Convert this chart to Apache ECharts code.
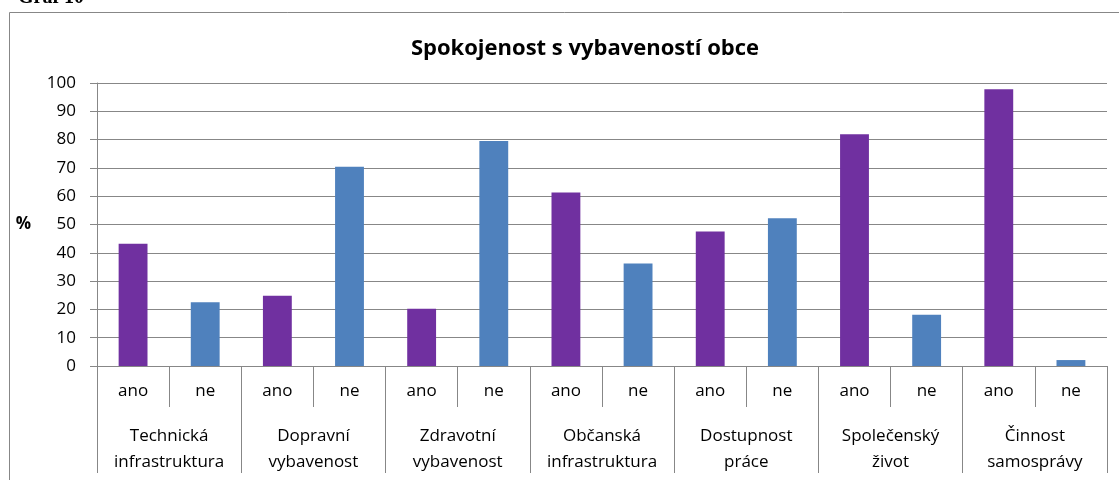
<!DOCTYPE html>
<html>
<head>
<meta charset="utf-8">
<title>Spokojenost s vybaveností obce</title>
<script src="https://cdn.jsdelivr.net/npm/echarts@6/dist/echarts.min.js"></script>
<style>
  html, body { margin: 0; padding: 0; background: #fff; }
  #chart { width: 1119px; height: 480px; }
</style>
</head>
<body>
<div id="chart"></div>
<script>
// popisky osy x (spodní úroveň) a skupiny (horní úroveň)
const answers = ['ano', 'ne', 'ano', 'ne', 'ano', 'ne', 'ano', 'ne', 'ano', 'ne', 'ano', 'ne', 'ano', 'ne']
const groups = [
  'Technická\ninfrastruktura',
  'Dopravní\nvybavenost',
  'Zdravotní\nvybavenost',
  'Občanská\ninfrastruktura',
  'Dostupnost\npráce',
  'Společenský\nživot',
  'Činnost\nsamosprávy'
]
// hodnoty v %
const anoValues = [43.2, 24.8, 20.2, 61.3, 47.5, 81.9, 97.8]
const neValues = [22.5, 70.4, 79.5, 36.2, 52.2, 18.1, 2.1]
const yTicks = [0, 10, 20, 30, 40, 50, 60, 70, 80, 90, 100]

const purple = '#7030A0'
const blue = '#4F81BD'
const gray = '#878787'
const font = '"Open Sans", "Noto Sans", sans-serif'

// ano/ne střídavě za sebou
const barData = []
for (let i = 0; i < groups.length; i++) {
  barData.push({ value: anoValues[i], itemStyle: { color: purple } })
  barData.push({ value: neValues[i], itemStyle: { color: blue } })
}

const chart = echarts.init(document.getElementById('chart'))
chart.setOption({
  animation: false,
  title: {
    text: 'Spokojenost s vybaveností obce',
    left: 580,
    top: 33,
    textAlign: 'center',
    textStyle: { fontFamily: font, fontWeight: 'bold', fontSize: 22, color: '#000' }
  },
  grid: { left: 97, right: 12, top: 83, bottom: 114, containLabel: false },
  xAxis: [
    {
      type: 'category',
      data: answers,
      axisLine: { lineStyle: { color: gray, width: 1 } },
      axisTick: { show: true, interval: 0, length: 41, lineStyle: { color: gray } },
      axisLabel: { interval: 0, margin: 17, fontFamily: font, fontSize: 17, color: '#000' }
    },
    {
      type: 'category',
      data: groups,
      position: 'bottom',
      axisLine: { show: false },
      axisTick: { show: true, interval: 0, length: 107, lineStyle: { color: gray } },
      axisLabel: {
        interval: 0,
        margin: 57,
        lineHeight: 26,
        fontFamily: font,
        fontSize: 17,
        color: '#000'
      }
    }
  ],
  yAxis: {
    type: 'value',
    min: yTicks[0],
    max: yTicks[yTicks.length - 1],
    interval: 10,
    name: '%',
    nameLocation: 'middle',
    nameRotate: 0,
    nameGap: 66,
    nameTextStyle: { fontFamily: font, fontWeight: 'bold', fontSize: 17, color: '#000' },
    axisLine: { show: true, lineStyle: { color: gray } },
    axisTick: { show: true, length: 7, lineStyle: { color: gray } },
    axisLabel: { margin: 21, fontFamily: font, fontSize: 17, color: '#000' },
    splitLine: { lineStyle: { color: gray, width: 1 } }
  },
  series: [
    {
      type: 'bar',
      xAxisIndex: 0,
      barWidth: '40%',
      data: barData
    }
  ],
  graphic: [
    {
      type: 'rect',
      z: -10,
      shape: { x: 9.5, y: 12.5, width: 1200, height: 600 },
      style: { fill: 'none', stroke: gray, lineWidth: 1 }
    },
    {
      type: 'text',
      x: 18,
      y: 8,
      style: {
        text: 'Graf 10',
        font: 'bold 20px "Liberation Serif", serif',
        fill: '#000',
        textVerticalAlign: 'bottom'
      }
    }
  ]
})
</script>
</body>
</html>
